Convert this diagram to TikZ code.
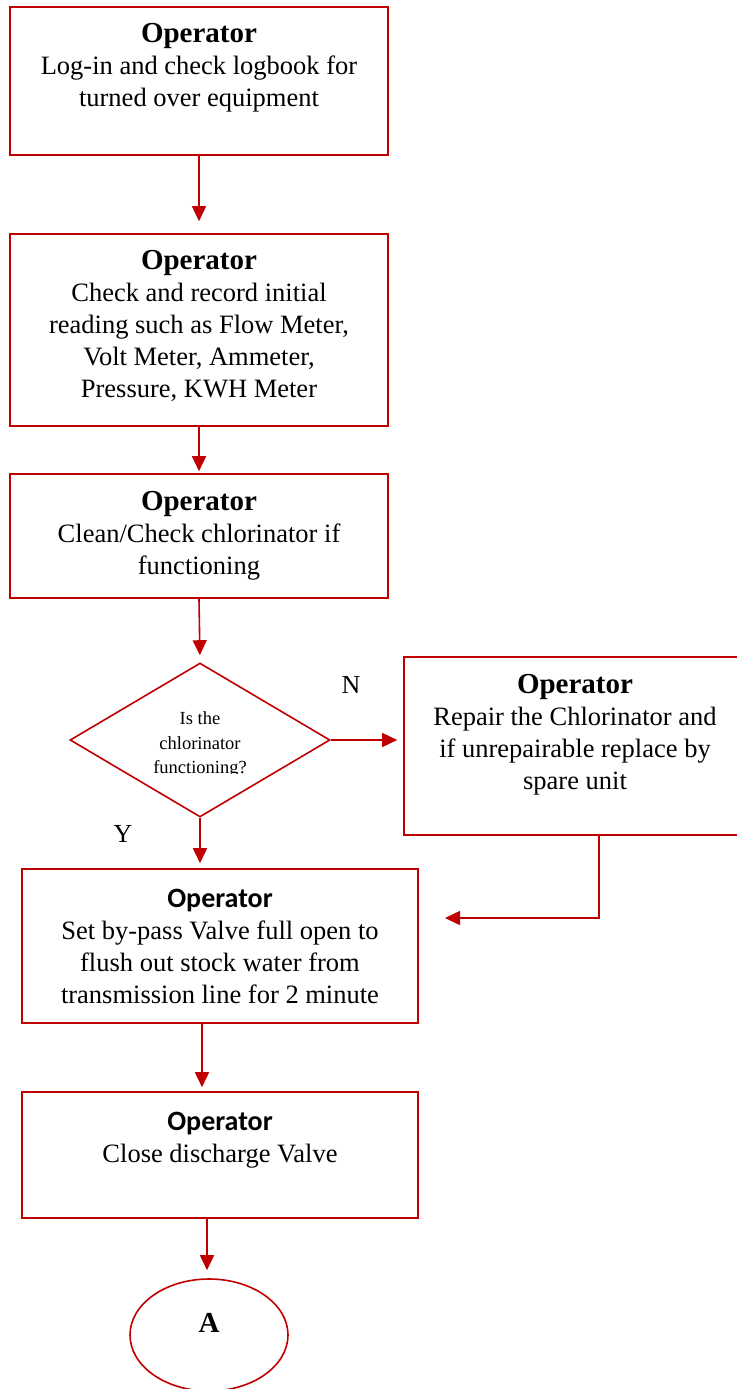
\documentclass[tikz,border=0pt]{standalone}
\usepackage{fontspec}
\setmainfont{Liberation Serif}
\newfontfamily\calfont{Carlito}
\usetikzlibrary{shapes.geometric,arrows.meta}
\definecolor{fr}{HTML}{C00000}
\begin{document}
\begin{tikzpicture}[x=1pt,y=-1pt,
  box/.style={draw=fr,line width=1.6pt,rectangle,inner sep=0pt},
  txt/.style={align=center,inner sep=0pt,font=\fontsize{26.5}{32}\selectfont},
  arr/.style={draw=fr,line width=1.6pt,-{Triangle[length=15pt,width=14pt]}},
  lab/.style={inner sep=0pt,font=\fontsize{26}{30}\selectfont}]
\useasboundingbox (0,0) rectangle (736,1389);
% boxes
\node[box,minimum width=378pt,minimum height=148pt] (b1) at (199,81) {};
\node[box,minimum width=378pt,minimum height=192pt] (b2) at (199,330) {};
\node[box,minimum width=378pt,minimum height=124pt] (b3) at (199,536) {};
\node[draw=fr,line width=1.6pt,diamond,minimum width=260pt,minimum height=154pt,inner sep=0pt] (d) at (200,740) {};
\node[box,minimum width=346pt,minimum height=178pt] (b4) at (577,746) {};
\node[box,minimum width=396pt,minimum height=154pt] (b5) at (220,946) {};
\node[box,minimum width=396pt,minimum height=126pt] (b6) at (220,1155) {};
\node[draw=fr,line width=1.6pt,ellipse,minimum width=158pt,minimum height=112pt,inner sep=0pt] (e) at (209,1335) {};
% texts
\node[txt] (t1) at (199,68) {{\fontsize{29}{32}\selectfont\bfseries Operator}\\Log-in and check logbook for\\turned over equipment};
\node[txt] (t2) at (199,326) {{\fontsize{29}{32}\selectfont\bfseries Operator}\\Check and record initial\\reading such as Flow Meter,\\Volt Meter, Ammeter,\\Pressure, KWH Meter};
\node[txt] (t3) at (199,536) {{\fontsize{29}{32}\selectfont\bfseries Operator}\\Clean/Check chlorinator if\\functioning};
\node[txt] (t4) at (575,735) {{\fontsize{29}{32}\selectfont\bfseries Operator}\\Repair the Chlorinator and\\if unrepairable replace by\\spare unit};
\node[txt] (t5) at (220,946) {{\calfont\fontsize{28}{32}\selectfont\bfseries Operator}\\Set by-pass Valve full open to\\flush out stock water from\\transmission line for 2 minute};
\node[txt] (t6) at (220,1140) {{\calfont\fontsize{28}{32}\selectfont\bfseries Operator}\\Close discharge Valve};
\begin{scope}
\clip (100,690) rectangle (300,773);
\node[align=center,inner sep=0pt,font=\fontsize{18.5}{24.5}\selectfont] (td) at (200,745) {Is the\\chlorinator\\functioning?};
\end{scope}
\node[inner sep=0pt,font=\fontsize{29}{32}\selectfont\bfseries] (tA) at (209,1323) {A};
\node[lab] (lN) at (351,685) {N};
\node[lab] (lY) at (123,834) {Y};
% connectors
\draw[arr] (b1.south) -- ([yshift=12pt]b2.north);
\draw[arr,shorten >=2pt] (b2.south) -- (b3.north);
\draw[arr,shorten >=7pt] (b3.south) -- (d.north);
\draw[arr,shorten >=6pt] (d.east) -- (d.east -| b4.west);
\draw[arr,shorten >=5pt] (d.south) -- ([xshift=-20pt]b5.north);
\coordinate (c1) at (445,918);
\draw[arr] ([xshift=22pt]b4.south) |- (c1);
\draw[arr,shorten >=4pt] ([xshift=-18pt]b5.south) -- ([xshift=-18pt]b6.north);
\draw[arr,shorten >=8pt] ([xshift=-13pt]b6.south) -- ([xshift=-2pt]e.north);
\end{tikzpicture}
\end{document}
